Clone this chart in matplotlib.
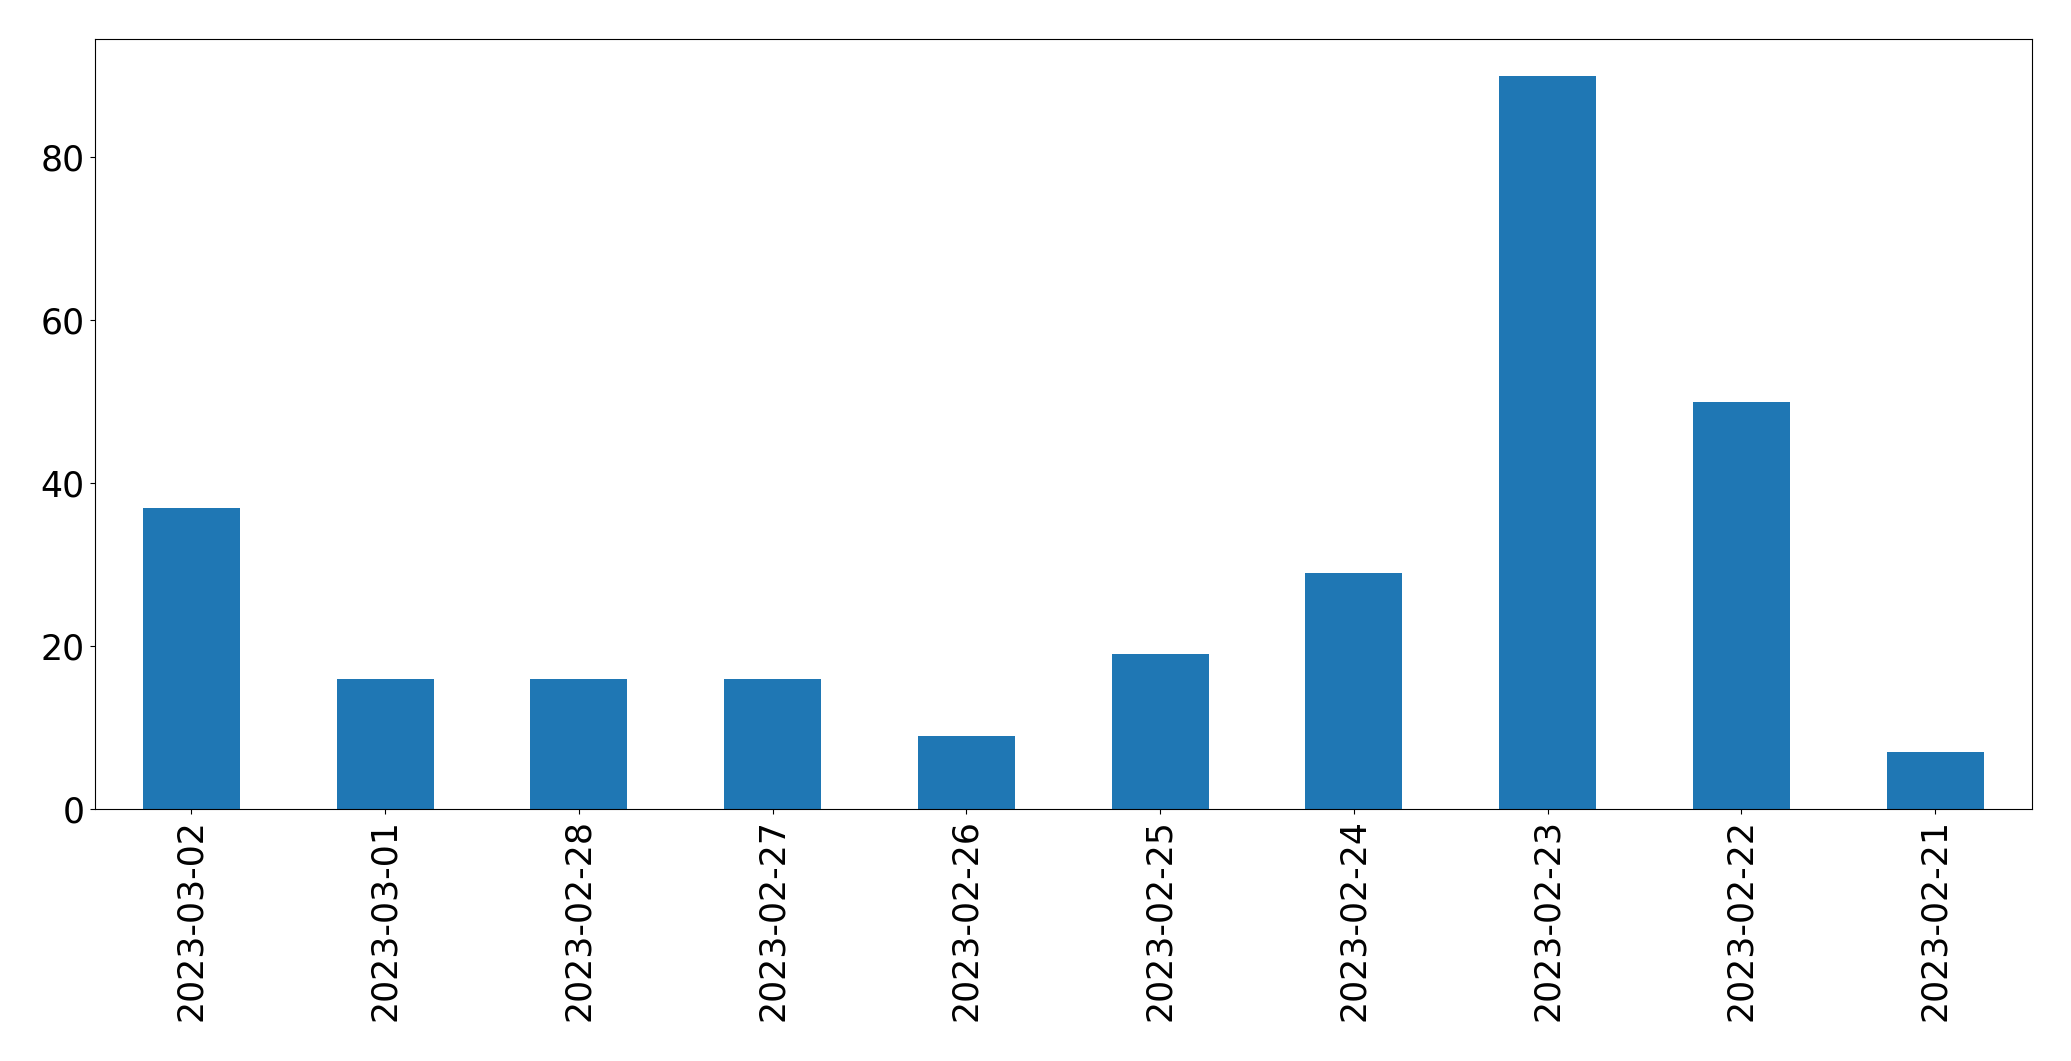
import pandas as pd
import matplotlib
matplotlib.use("Agg")
import matplotlib.pyplot as plt

dates = ["2023-03-02", "2023-03-01", "2023-02-28", "2023-02-27", "2023-02-26",
         "2023-02-25", "2023-02-24", "2023-02-23", "2023-02-22", "2023-02-21"]
counts = [37, 16, 16, 16, 9, 19, 29, 90, 50, 7]

s = pd.Series(counts, index=dates)

fig = plt.figure(figsize=(20.71, 10.61), dpi=100)
ax = fig.add_axes([94.5 / 2071, 1 - 809 / 1061, (2032 - 94.5) / 2071, (809 - 39) / 1061])
s.plot(kind="bar", ax=ax, color="#1f77b4")
ax.tick_params(axis="both", labelsize=25)

fig.savefig("out.png", dpi=100)
